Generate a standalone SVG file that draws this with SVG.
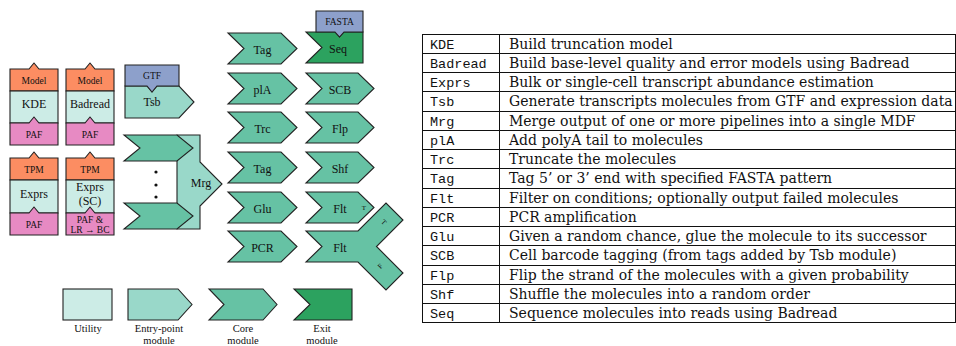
<svg xmlns="http://www.w3.org/2000/svg" width="956" height="346" viewBox="0 0 956 346">
  <defs>
    <style>
      .s { stroke:#222; stroke-width:1.1; stroke-linejoin:miter; }
      .util { fill:#ccece6; }
      .entry { fill:#99d8c9; }
      .core { fill:#66c2a4; }
      .exit { fill:#2ca25f; }
      .io-o { fill:#fc8d62; }
      .io-p { fill:#e78ac3; }
      .io-b { fill:#8da0cb; }
      .lbl { font-family:"Liberation Serif", serif; font-size:12px; text-anchor:middle; fill:#111; }
      .sm { font-size:9.5px; }
      .leg { font-size:10.5px; }
      .tiny { font-size:7px; }
      .grid { stroke:#111; stroke-width:1; fill:none; }
      .mono { font-family:"Liberation Mono", monospace; font-size:13.5px; fill:#111; }
      .desc { font-family:"DejaVu Serif", serif; font-size:14px; fill:#111; }
    </style>
  </defs>

  <rect x="0" y="0" width="956" height="346" fill="#fff"/>

  <!-- Utility modules with inputs/outputs -->
  <g id="kde">
    <path class="s io-o" d="M10,69 H29 L34,63 L39,69 H58 V91 H10 Z"/>
    <rect class="s util" x="10" y="91" width="48" height="32"/>
    <path class="s io-p" d="M10,123 H29 L34,117 L39,123 H58 V145 H10 Z"/>
    <text class="lbl sm" x="34" y="84">Model</text>
    <text class="lbl" x="34" y="108">KDE</text>
    <text class="lbl sm" x="34" y="137.5">PAF</text>
  </g>
  <g id="badread">
    <path class="s io-o" d="M66,69 H85 L90,63 L95,69 H114 V91 H66 Z"/>
    <rect class="s util" x="66" y="91" width="48" height="32"/>
    <path class="s io-p" d="M66,123 H85 L90,117 L95,123 H114 V145 H66 Z"/>
    <text class="lbl sm" x="90" y="84">Model</text>
    <text class="lbl" x="90" y="108">Badread</text>
    <text class="lbl sm" x="90" y="137.5">PAF</text>
  </g>
  <g id="exprs">
    <path class="s io-o" d="M10,158 H29 L34,152 L39,158 H58 V180 H10 Z"/>
    <rect class="s util" x="10" y="180" width="48" height="33"/>
    <path class="s io-p" d="M10,213 H29 L34,207 L39,213 H58 V235 H10 Z"/>
    <text class="lbl sm" x="34" y="172.5">TPM</text>
    <text class="lbl" x="34" y="198">Exprs</text>
    <text class="lbl sm" x="34" y="227.5">PAF</text>
  </g>
  <g id="exprs-sc">
    <path class="s io-o" d="M66,158 H85 L90,152 L95,158 H114 V180 H66 Z"/>
    <rect class="s util" x="66" y="180" width="48" height="33"/>
    <path class="s io-p" d="M66,213 H85 L90,207 L95,213 H114 V235 H66 Z"/>
    <text class="lbl sm" x="90" y="172.5">TPM</text>
    <text class="lbl" x="90" y="191">Exprs</text>
    <text class="lbl" x="90" y="205">(SC)</text>
    <text class="lbl sm" x="90" y="222.5">PAF &amp;</text>
    <text class="lbl sm" x="90" y="232.5">LR → BC</text>
  </g>

  <!-- Entry-point modules -->
  <g id="tsb">
    <path class="s entry" d="M125,86 H147 L152,92 L157,86 H179 L194,102 L179,118 H125 Z"/>
    <path class="s io-b" d="M125,65 H179 V86 H157 L152,92 L147,86 H125 Z"/>
    <text class="lbl sm" x="152" y="78.5">GTF</text>
    <text class="lbl" x="152" y="106">Tsb</text>
  </g>
  <g id="mrg">
    <path class="s entry" d="M177,135 H200 V162 L222,184 L200,206 V229 H177 Z"/>
    <polygon class="s core" points="124,135 177,135 193,148 177,161 124,161 140,148"/>
    <polygon class="s core" points="124,203 177,203 193,216 177,229 124,229 140,216"/>
    <circle cx="156" cy="172" r="1.6" fill="#111"/>
    <circle cx="156" cy="185" r="1.6" fill="#111"/>
    <circle cx="156" cy="197" r="1.6" fill="#111"/>
    <text class="lbl" x="201" y="187">Mrg</text>
  </g>

  <!-- Core modules, first column -->
  <g id="tag-1">
    <polygon class="s core" points="228,33 281,33 297,48.5 281,64 228,64 244,48.5"/>
    <text class="lbl" x="262.5" y="53.5">Tag</text>
  </g>
  <g id="pla">
    <polygon class="s core" points="228,73 281,73 297,88.5 281,104 228,104 244,88.5"/>
    <text class="lbl" x="262.5" y="93.5">plA</text>
  </g>
  <g id="trc">
    <polygon class="s core" points="228,112 281,112 297,127.5 281,143 228,143 244,127.5"/>
    <text class="lbl" x="262.5" y="132.5">Trc</text>
  </g>
  <g id="tag-2">
    <polygon class="s core" points="228,152 281,152 297,167.5 281,183 228,183 244,167.5"/>
    <text class="lbl" x="262.5" y="172.5">Tag</text>
  </g>
  <g id="glu">
    <polygon class="s core" points="228,192 281,192 297,207.5 281,223 228,223 244,207.5"/>
    <text class="lbl" x="262.5" y="212.5">Glu</text>
  </g>
  <g id="pcr">
    <polygon class="s core" points="228,231 281,231 297,246.5 281,262 228,262 244,246.5"/>
    <text class="lbl" x="262.5" y="251.5">PCR</text>
  </g>

  <!-- Core / exit modules, second column -->
  <g id="seq">
    <polygon class="s exit" points="306,32 335,32 339.5,37 344,32 363,32 363,63 306,63 322,47.5"/>
    <polygon class="s io-b" points="316,11 363,11 363,32 344,32 339.5,37 335,32 316,32"/>
    <text class="lbl sm" x="339.5" y="25">FASTA</text>
    <text class="lbl" x="338" y="52.5">Seq</text>
  </g>
  <g id="scb">
    <polygon class="s core" points="306,73 358,73 374,88.5 358,104 306,104 322,88.5"/>
    <text class="lbl" x="340" y="93.5">SCB</text>
  </g>
  <g id="flp">
    <polygon class="s core" points="306,112 358,112 374,127.5 358,143 306,143 322,127.5"/>
    <text class="lbl" x="340" y="132.5">Flp</text>
  </g>
  <g id="shf">
    <polygon class="s core" points="306,152 358,152 374,167.5 358,183 306,183 322,167.5"/>
    <text class="lbl" x="340" y="172.5">Shf</text>
  </g>
  <g id="flt-1">
    <polygon class="s core" points="306,192 358,192 374,207.5 358,223 306,223 322,207.5"/>
    <text class="lbl" x="340" y="212.5">Flt</text>
    <text class="lbl tiny" x="364" y="210">T</text>
  </g>
  <g id="flt-2">
    <polygon class="s core" points="306,231 358,231 386,203 403,220 376.5,246.5 403,273 386,290 358,262 306,262 322,246.5"/>
    <text class="lbl" x="340" y="251.5">Flt</text>
    <text class="lbl tiny" transform="translate(384,222) rotate(45)" x="0" y="2.5">T</text>
    <text class="lbl tiny" transform="translate(380,266) rotate(-45)" x="0" y="2.5">F</text>
  </g>

  <!-- Legend -->
  <g id="legend-utility">
    <rect class="s util" x="63" y="289" width="49" height="31"/>
    <text class="lbl leg" x="88" y="331.5">Utility</text>
  </g>
  <g id="legend-entry">
    <polygon class="s entry" points="128,289 178,289 192,304.5 178,320 128,320"/>
    <text class="lbl leg" x="159" y="331.5">Entry-point</text>
    <text class="lbl leg" x="159" y="343.5">module</text>
  </g>
  <g id="legend-core">
    <polygon class="s core" points="209,289 263,289 277,304.5 263,320 209,320 224,304.5"/>
    <text class="lbl leg" x="243" y="331.5">Core</text>
    <text class="lbl leg" x="243" y="343.5">module</text>
  </g>
  <g id="legend-exit">
    <polygon class="s exit" points="294,289 352,289 352,320 294,320 310,304.5"/>
    <text class="lbl leg" x="322" y="331.5">Exit</text>
    <text class="lbl leg" x="322" y="343.5">module</text>
  </g>

  <!-- Module description table -->
  <g id="table">
    <path class="grid" d="M422.5,34 V323 M499.5,34 V323 M955.5,34 V323"/>
    <path class="grid" d="M422,34.5 H956 M422,53.5 H956 M422,72.5 H956 M422,91.5 H956 M422,111.5 H956 M422,130.5 H956 M422,149.5 H956 M422,168.5 H956 M422,188.5 H956 M422,207.5 H956 M422,226.5 H956 M422,245.5 H956 M422,265.5 H956 M422,284.5 H956 M422,303.5 H956 M422,322.5 H956"/>
    <g class="mono">
      <text x="430" y="48.5">KDE</text>
      <text x="430" y="67.8">Badread</text>
      <text x="430" y="87">Exprs</text>
      <text x="430" y="106.3">Tsb</text>
      <text x="430" y="125.6">Mrg</text>
      <text x="430" y="144.8">plA</text>
      <text x="430" y="164.1">Trc</text>
      <text x="430" y="183.4">Tag</text>
      <text x="430" y="202.6">Flt</text>
      <text x="430" y="221.9">PCR</text>
      <text x="430" y="241.2">Glu</text>
      <text x="430" y="260.4">SCB</text>
      <text x="430" y="279.7">Flp</text>
      <text x="430" y="299">Shf</text>
      <text x="430" y="318.2">Seq</text>
    </g>
    <g class="desc">
      <text x="509" y="48.5">Build truncation model</text>
      <text x="509" y="67.8">Build base-level quality and error models using Badread</text>
      <text x="509" y="87">Bulk or single-cell transcript abundance estimation</text>
      <text x="509" y="106.3">Generate transcripts molecules from GTF and expression data</text>
      <text x="509" y="125.6">Merge output of one or more pipelines into a single MDF</text>
      <text x="509" y="144.8">Add polyA tail to molecules</text>
      <text x="509" y="164.1">Truncate the molecules</text>
      <text x="509" y="183.4">Tag 5’ or 3’ end with specified FASTA pattern</text>
      <text x="509" y="202.6">Filter on conditions; optionally output failed molecules</text>
      <text x="509" y="221.9">PCR amplification</text>
      <text x="509" y="241.2">Given a random chance, glue the molecule to its successor</text>
      <text x="509" y="260.4">Cell barcode tagging (from tags added by Tsb module)</text>
      <text x="509" y="279.7">Flip the strand of the molecules with a given probability</text>
      <text x="509" y="299">Shuffle the molecules into a random order</text>
      <text x="509" y="318.2">Sequence molecules into reads using Badread</text>
    </g>
  </g>
</svg>
